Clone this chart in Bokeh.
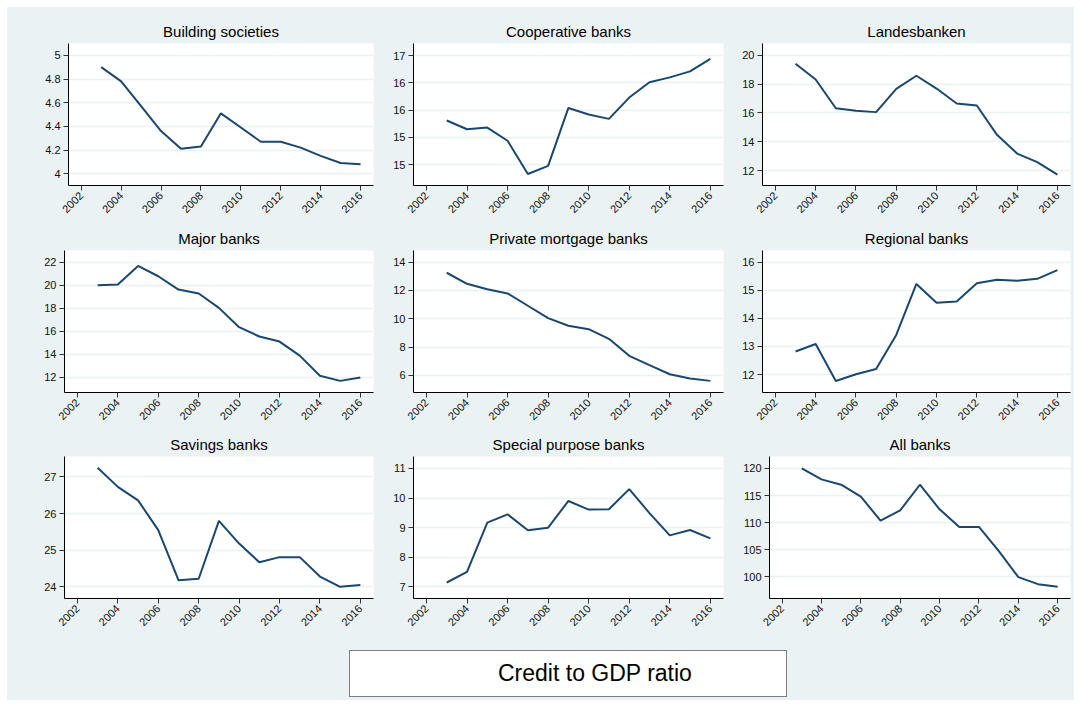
import math
from bokeh.plotting import figure
from bokeh.layouts import column, row
from bokeh.models import FixedTicker, Legend, LegendItem, Range1d
from bokeh.embed import file_html
from bokeh.resources import INLINE

# ---------------- data ----------------
years = [2003, 2004, 2005, 2006, 2007, 2008, 2009, 2010, 2011, 2012, 2013, 2014, 2015, 2016]
x_ticks = [2002, 2004, 2006, 2008, 2010, 2012, 2014, 2016]

titles = ["Building societies", "Cooperative banks", "Landesbanken",
          "Major banks", "Private mortgage banks", "Regional banks",
          "Savings banks", "Special purpose banks", "All banks"]

building_societies = [4.90, 4.78, 4.57, 4.36, 4.21, 4.23, 4.51, 4.39, 4.27, 4.27, 4.22, 4.15, 4.09, 4.08]
cooperative_banks = [15.81, 15.65, 15.68, 15.44, 14.83, 14.98, 16.04, 15.92, 15.84, 16.23, 16.51, 16.60, 16.71, 16.94]
landesbanken = [19.42, 18.33, 16.33, 16.15, 16.06, 17.68, 18.59, 17.70, 16.66, 16.52, 14.48, 13.18, 12.58, 11.72]
major_banks = [20.00, 20.06, 21.68, 20.78, 19.62, 19.28, 18.03, 16.35, 15.54, 15.10, 13.88, 12.12, 11.68, 11.97]
private_mortgage_banks = [13.25, 12.47, 12.09, 11.79, 10.92, 10.05, 9.51, 9.27, 8.59, 7.39, 6.73, 6.09, 5.79, 5.62]
regional_banks = [12.82, 13.09, 11.77, 12.01, 12.20, 13.41, 15.23, 14.56, 14.60, 15.25, 15.38, 15.34, 15.41, 15.72]
savings_banks = [27.25, 26.73, 26.36, 25.55, 24.18, 24.22, 25.80, 25.18, 24.67, 24.81, 24.81, 24.28, 24.00, 24.05]
special_purpose_banks = [7.15, 7.51, 9.17, 9.45, 8.91, 9.00, 9.90, 9.61, 9.62, 10.30, 9.49, 8.74, 8.92, 8.64]
all_banks = [120.00, 117.98, 117.00, 114.79, 110.37, 112.27, 116.99, 112.45, 109.20, 109.20, 104.79, 99.94, 98.65, 98.16]

series = [building_societies, cooperative_banks, landesbanken,
          major_banks, private_mortgage_banks, regional_banks,
          savings_banks, special_purpose_banks, all_banks]

y_ticks = [[4, 4.2, 4.4, 4.6, 4.8, 5],
           [15, 15.5, 16, 16.5, 17],
           [12, 14, 16, 18, 20],
           [12, 14, 16, 18, 20, 22],
           [6, 8, 10, 12, 14],
           [12, 13, 14, 15, 16],
           [24, 25, 26, 27],
           [7, 8, 9, 10, 11],
           [100, 105, 110, 115, 120]]
y_tick_labels = [["4", "4.2", "4.4", "4.6", "4.8", "5"],
                 ["15", "15", "16", "16", "17"],
                 ["12", "14", "16", "18", "20"],
                 ["12", "14", "16", "18", "20", "22"],
                 ["6", "8", "10", "12", "14"],
                 ["12", "13", "14", "15", "16"],
                 ["24", "25", "26", "27"],
                 ["7", "8", "9", "10", "11"],
                 ["100", "105", "110", "115", "120"]]

legend_label = "Credit to GDP ratio"

# ---------------- styling / layout ----------------
BG = "#EAF2F3"
LINE = "#1A476F"
FONT = "Liberation Sans"

y_ranges = [(3.9, 5.1), (14.62, 17.22), (10.96, 20.83),
            (10.67, 23.02), (4.8, 14.82), (11.36, 16.42),
            (23.68, 27.56), (6.61, 11.40), (96.0, 122.2)]

col_w = [373, 350, 344]
col_right = [7, 7, 4]
row_h = [215, 206, 206]
row_top = [36, 28, 28]
lefts = [[61, 33, 32], [57, 33, 32], [57, 33, 39]]


def panel(i):
    r, c = divmod(i, 3)
    top = row_top[r]
    bottom = row_h[r] - top - 142
    p = figure(width=col_w[c], height=row_h[r], output_backend="svg",
               toolbar_location=None, title=titles[i],
               x_range=Range1d(2001.36, 2016.65),
               y_range=Range1d(*y_ranges[i]),
               min_border_left=lefts[r][c], min_border_right=col_right[c],
               min_border_top=top, min_border_bottom=bottom)
    p.border_fill_color = BG
    p.background_fill_color = "white"
    p.outline_line_color = None
    p.title.align = "center"
    p.title.text_font = FONT
    p.title.text_font_size = "15px"
    p.title.text_font_style = "normal"
    p.title.text_color = "black"
    p.title.standoff = 7

    p.line(years, series[i], line_color=LINE, line_width=2)

    p.xaxis.ticker = FixedTicker(ticks=x_ticks)
    p.xaxis.major_label_orientation = math.pi / 4
    p.xaxis.major_label_text_align = "right"
    p.xaxis.major_label_text_baseline = "middle"
    p.yaxis.ticker = FixedTicker(ticks=y_ticks[i])
    p.yaxis.major_label_overrides = {t: l for t, l in zip(y_ticks[i], y_tick_labels[i])}
    for ax in (p.xaxis[0], p.yaxis[0]):
        ax.axis_line_color = "black"
        ax.axis_line_width = 1
        ax.major_tick_line_color = "#333333"
        ax.major_tick_out = 5
        ax.major_tick_in = 0
        ax.minor_tick_line_color = None
        ax.major_label_text_font = FONT
        ax.major_label_text_font_size = "11px"
        ax.major_label_text_color = "#111111"
        ax.major_label_standoff = 3
    p.xgrid.grid_line_color = None
    p.ygrid.grid_line_color = BG
    p.ygrid.grid_line_width = 1.5
    p.ygrid.ticker = FixedTicker(ticks=y_ticks[i])
    return p


panels = [panel(i) for i in range(9)]

# legend strip
lg = figure(width=sum(col_w), height=66, output_backend="svg", toolbar_location=None,
            min_border=0, x_range=Range1d(0, 1), y_range=Range1d(0, 1))
lg.border_fill_color = BG
lg.background_fill_color = BG
lg.outline_line_color = None
lg.axis.visible = False
lg.grid.visible = False
lg.title.visible = False
dummy = lg.line(x=[], y=[], line_color=LINE, line_width=2)
legend = Legend(items=[LegendItem(label=legend_label, renderers=[dummy])],
                location=(342, 3), orientation="horizontal",
                padding=9, margin=0, spacing=0,
                glyph_width=102, glyph_height=27,
                label_width=279, label_height=27, label_standoff=37,
                label_text_font=FONT, label_text_font_size="23px",
                label_text_color="black",
                border_line_color="black", border_line_width=1,
                background_fill_color="white", background_fill_alpha=1)
lg.add_layout(legend)

bgstyle = {"background-color": BG}
layout = column(row(*panels[0:3], styles=bgstyle),
                row(*panels[3:6], styles=bgstyle),
                row(*panels[6:9], styles=bgstyle),
                lg, styles=bgstyle, margin=(7, 0, 0, 7))

open("out.html", "w").write(file_html(layout, INLINE))
